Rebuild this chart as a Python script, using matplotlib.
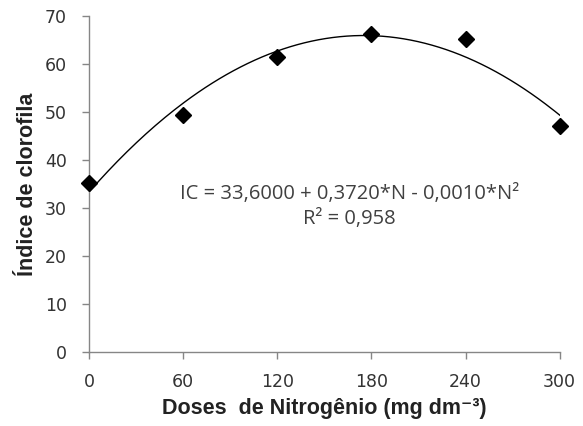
import numpy as np
import matplotlib
matplotlib.use('Agg')
import matplotlib.pyplot as plt

# doses of nitrogen (mg dm-3) and chlorophyll index
doses = [0, 60, 120, 180, 240, 300]
indice = [35.2, 49.4, 61.5, 66.3, 65.3, 47.1]
xticks = [0, 60, 120, 180, 240, 300]
yticks = [0, 10, 20, 30, 40, 50, 60, 70]

equation = 'IC = 33,6000 + 0,3720*N - 0,0010*N²'
r2_text = 'R² = 0,958'

fig = plt.figure(figsize=(5.83, 4.26), dpi=100)
ax = fig.add_axes([0.153, 0.174, 0.807, 0.788])

# quadratic trend line fitted to the points
coef = np.polyfit(doses, indice, 2)
xs = np.linspace(0, 300, 200)
ax.plot(xs, np.polyval(coef, xs), color='black', lw=1.0)
ax.plot(doses, indice, linestyle='none', marker='D', ms=8,
        color='black', clip_on=False, zorder=3)

ax.set_xlim(0, 300)
ax.set_ylim(0, 70)
ax.set_xticks(xticks)
ax.set_yticks(yticks)
for s in ('top', 'right'):
    ax.spines[s].set_visible(False)
for s in ('left', 'bottom'):
    ax.spines[s].set_color('#868686')
    ax.spines[s].set_linewidth(1.0)
ax.tick_params(colors='#868686', labelcolor='#333333', labelsize=12.5,
               length=5, width=1.0, pad=10)
ax.tick_params(axis='y', pad=11)

lab_font = dict(family=['Liberation Sans', 'DejaVu Sans'], fontweight='bold',
                fontsize=15.5, color='#222222')
ax.set_xlabel('Doses  de Nitrogênio (mg dm⁻³)', labelpad=5, **lab_font)
ax.set_ylabel('Índice de clorofila', labelpad=5, **lab_font)

ax.text(166, 33.0, equation, ha='center', va='center', fontsize=14.5,
        fontfamily='Open Sans', color='#404040')
ax.text(166, 27.7, r2_text, ha='center', va='center', fontsize=14.5,
        fontfamily='Open Sans', color='#404040')

fig.savefig('out.png', dpi=100)
